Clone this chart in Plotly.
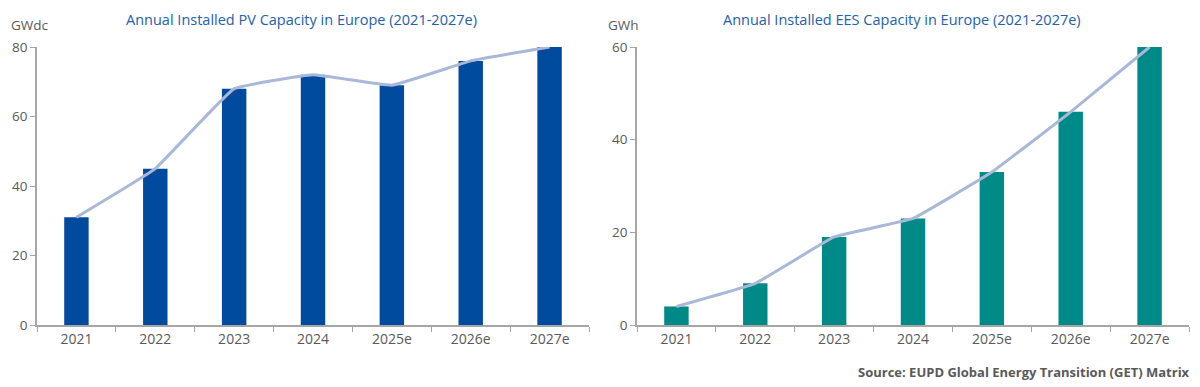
import plotly.graph_objects as go
from plotly.subplots import make_subplots

years = ["2021", "2022", "2023", "2024", "2025e", "2026e", "2027e"]
pv_gwdc = [31, 45, 68, 72, 69, 76, 80]
ees_gwh = [4, 9, 19, 23, 33, 46, 60]
pv_ticks = [0, 20, 40, 60, 80]
ees_ticks = [0, 20, 40, 60]

FONT = "Open Sans, sans-serif"
GREY = "#595959"
AXIS = "#a6a6a6"
PV_BLUE = "#004b9e"
TEAL = "#008a87"
LINE = "#a9b8d8"
TITLE = "#2360ad"

fig = make_subplots(rows=1, cols=2)

fig.add_trace(go.Bar(x=years, y=pv_gwdc, marker_color=PV_BLUE, width=0.31,
                     marker_line_width=0, showlegend=False, hoverinfo="skip"), row=1, col=1)
fig.add_trace(go.Scatter(x=years, y=pv_gwdc, mode="lines",
                         line=dict(color=LINE, width=3, shape="spline", smoothing=0.25),
                         showlegend=False, hoverinfo="skip"), row=1, col=1)
fig.add_trace(go.Bar(x=years, y=ees_gwh, marker_color=TEAL, width=0.31,
                     marker_line_width=0, showlegend=False, hoverinfo="skip"), row=1, col=2)
fig.add_trace(go.Scatter(x=years, y=ees_gwh, mode="lines",
                         line=dict(color=LINE, width=3, shape="spline", smoothing=0.25),
                         showlegend=False, hoverinfo="skip"), row=1, col=2)

W, H = 1200, 387
T, B = 47, 62
PH = H - T - B
xcommon = dict(showline=True, linecolor=AXIS, linewidth=1.5, ticks="outside",
               tickson="boundaries", ticklen=5, tickcolor=AXIS, tickwidth=1,
               tickfont=dict(family=FONT, size=14, color=GREY), showgrid=False,
               zeroline=False)
ycommon = dict(showline=True, linecolor=AXIS, linewidth=1.5, ticks="outside",
               ticklen=5, tickcolor=AXIS, tickwidth=1,
               tickfont=dict(family=FONT, size=13.5, color=GREY), showgrid=False,
               zeroline=False)

fig.update_xaxes(**xcommon)
fig.update_yaxes(**ycommon)
fig.update_layout(
    xaxis=dict(domain=[37 / W, 589 / W]),
    xaxis2=dict(domain=[637 / W, 1189 / W]),
    yaxis=dict(range=[0, 80], tickvals=pv_ticks),
    yaxis2=dict(range=[0, 60], tickvals=ees_ticks),
    width=W, height=H,
    margin=dict(l=0, r=0, t=T, b=B),
    paper_bgcolor="white", plot_bgcolor="white",
)


def py(p):
    return (H - B - p) / PH


annos = [
    dict(text="Annual Installed PV Capacity in Europe (2021-2027e)", x=301 / W, y=py(20),
         font=dict(family=FONT, size=14.5, color=TITLE)),
    dict(text="Annual Installed EES Capacity in Europe (2021-2027e)", x=902 / W, y=py(20),
         font=dict(family=FONT, size=14.5, color=TITLE)),
    dict(text="GWdc", x=9 / W, y=py(25), xanchor="left",
         font=dict(family=FONT, size=13.5, color=GREY)),
    dict(text="GWh", x=606 / W, y=py(25), xanchor="left",
         font=dict(family=FONT, size=13.5, color=GREY)),
    dict(text="<b>Source: EUPD Global Energy Transition (GET) Matrix</b>", x=1192 / W, y=py(372),
         xanchor="right", font=dict(family=FONT, size=13, color=GREY)),
]
for a in annos:
    a.setdefault("xanchor", "center")
    fig.add_annotation(xref="paper", yref="paper", yanchor="middle", showarrow=False, **a)

fig.write_html("out.html", config={"displayModeBar": False},
               post_script="document.body.style.margin='0';")
